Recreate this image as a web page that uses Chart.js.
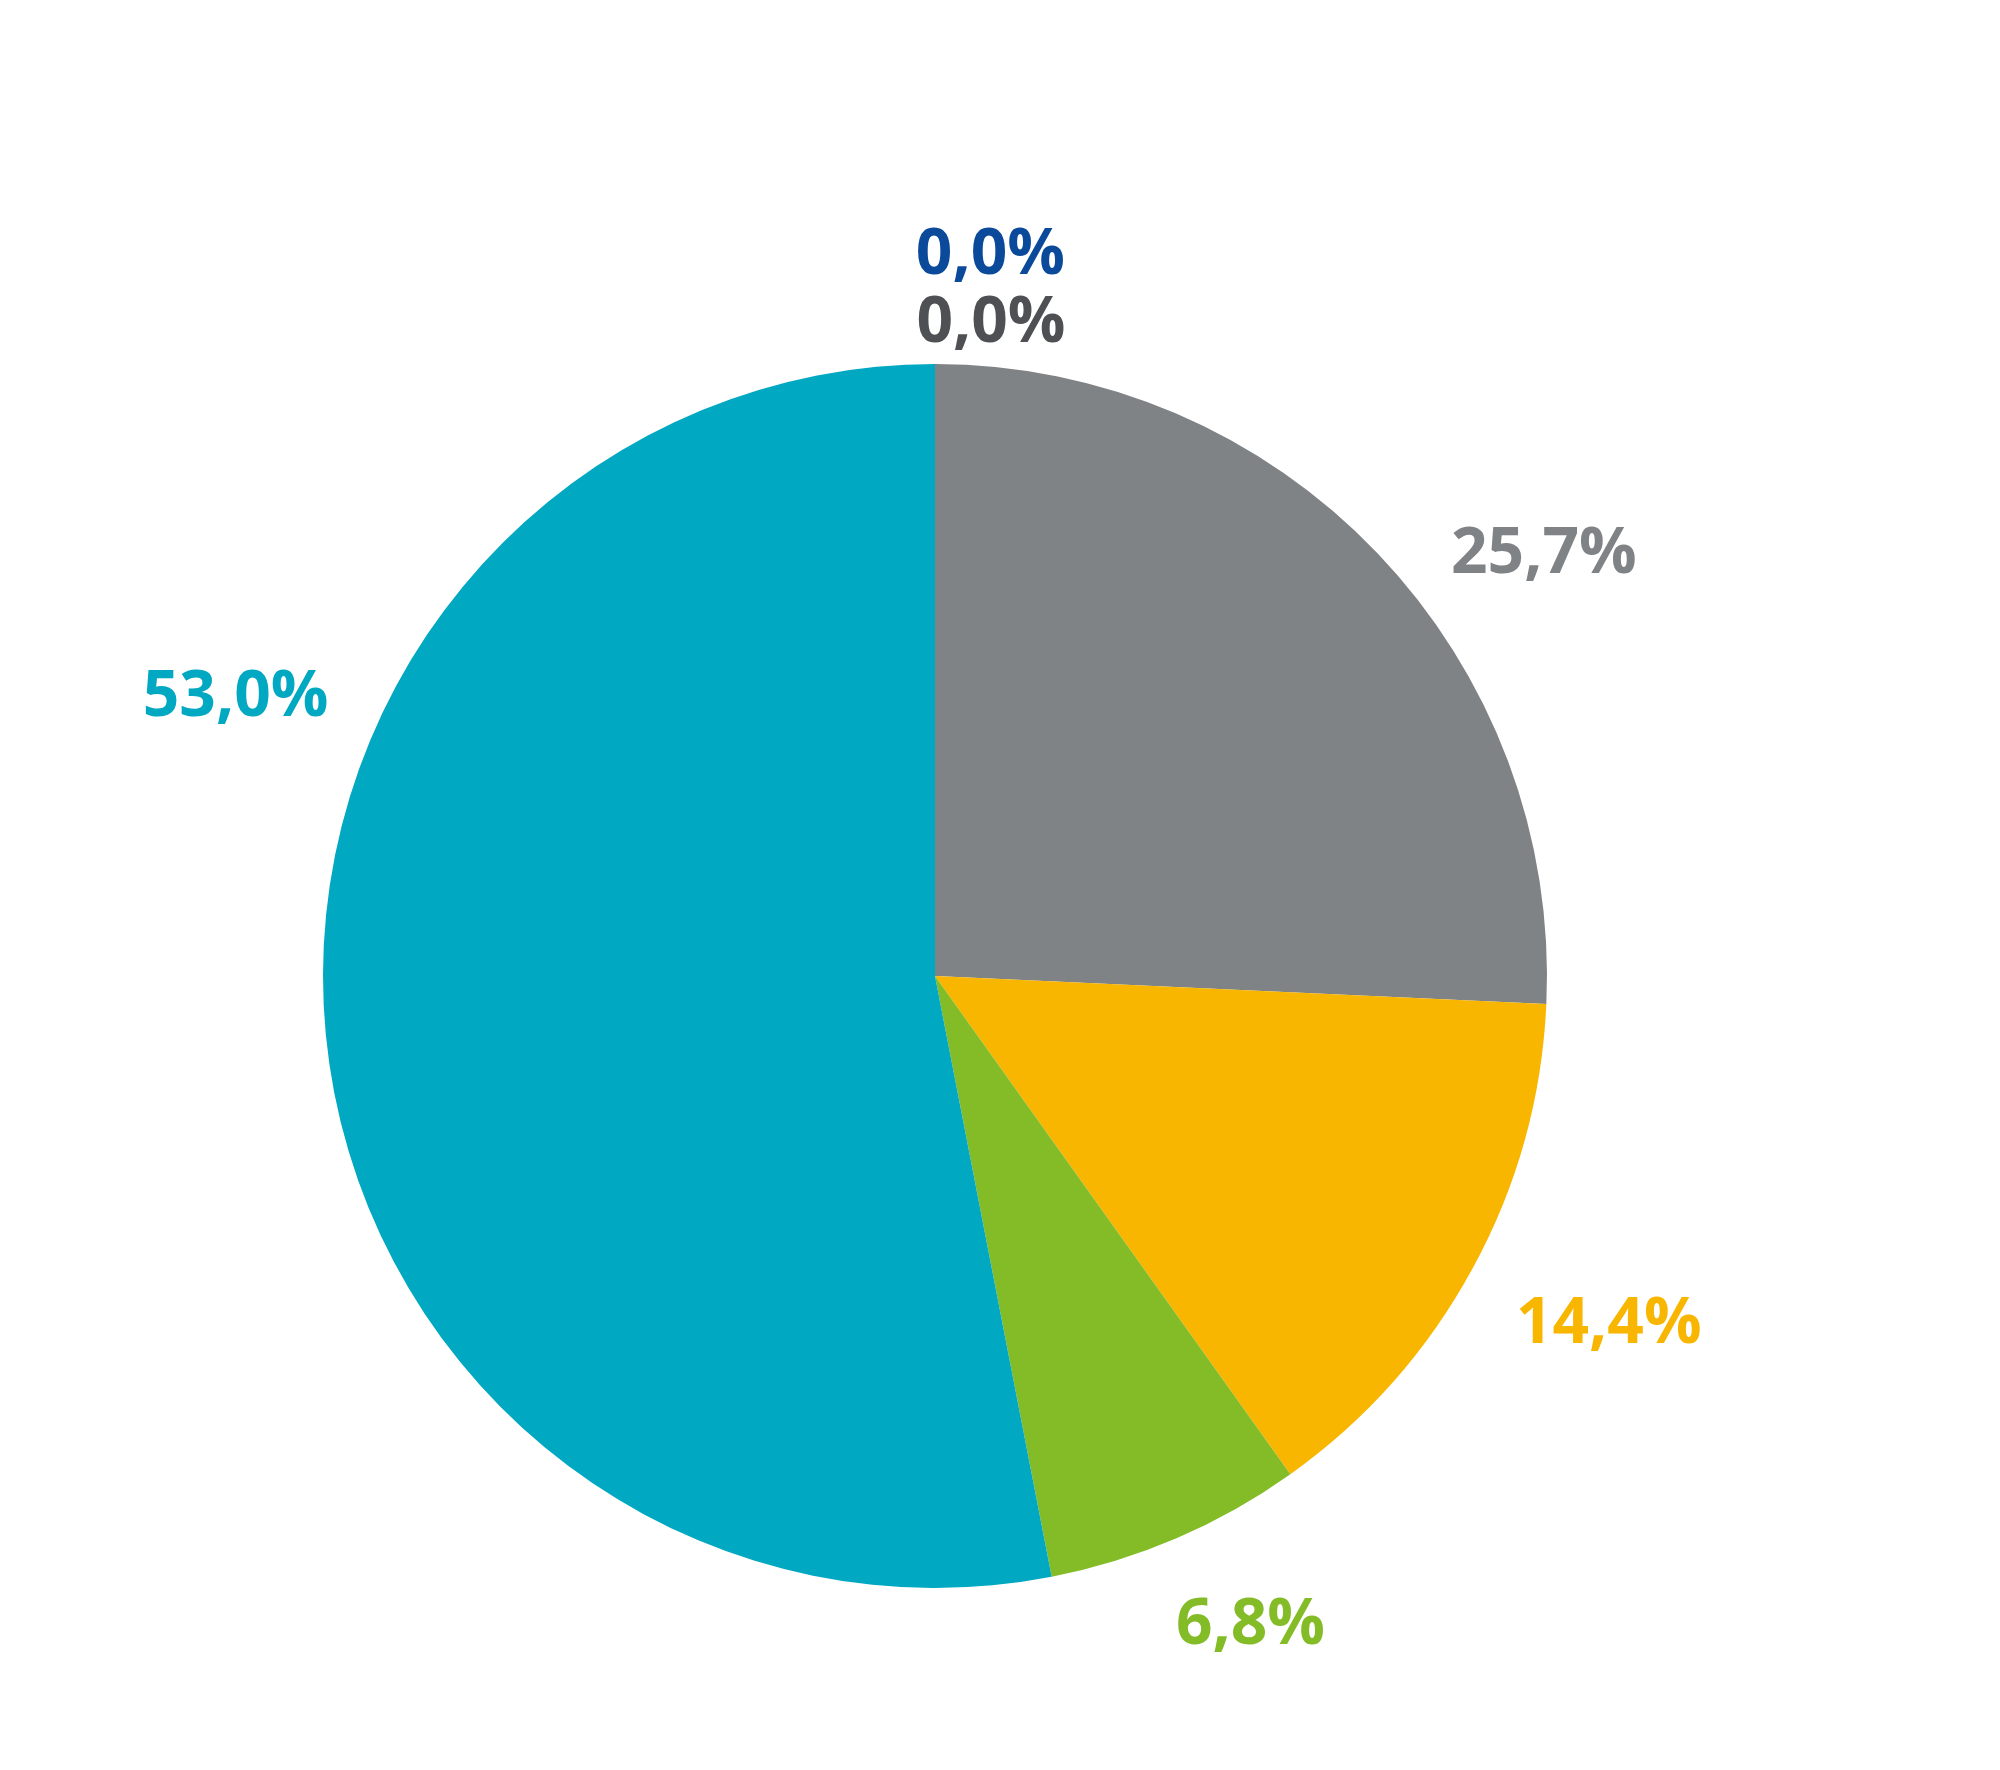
<!DOCTYPE html>
<html>
<head>
<meta charset="utf-8">
<script src="https://cdn.jsdelivr.net/npm/chart.js@4.4.0/dist/chart.umd.min.js"></script>
<style>
  html, body { margin: 0; padding: 0; background: #fff; }
  canvas { display: block; }
</style>
</head>
<body>
<canvas id="canvas" width="2000" height="1770"></canvas>
<script>
var categories = ['A', 'B', 'C', 'D', 'E', 'F'];
var values = [0.0, 0.0, 25.7, 14.4, 6.8, 53.0];
var labels = ['0,0%', '0,0%', '25,7%', '14,4%', '6,8%', '53,0%'];
var colors = ['#0b4a9b', '#4e5053', '#808386', '#f9b600', '#84bc28', '#00a8c2'];

// label placement: angle (deg clockwise from top) and distance as factor of radius
var labelAngle = [4.4, 4.9, 55.3, 117.4, 154.1, 291.7];
var labelDist = [1.18, 1.07, 1.21, 1.24, 1.18, 1.23];

var labelPlugin = {
  id: 'pctLabels',
  afterDraw: function (chart) {
    var arc = chart.getDatasetMeta(0).data[0];
    var cx = arc.x, cy = arc.y, r = arc.outerRadius;
    var ctx = chart.ctx;
    ctx.save();
    ctx.font = 'bold 64px "Open Sans"';
    ctx.textAlign = 'center';
    ctx.textBaseline = 'middle';
    for (var i = 0; i < labels.length; i++) {
      var a = labelAngle[i] * Math.PI / 180;
      var x = cx + Math.sin(a) * r * labelDist[i];
      var y = cy - Math.cos(a) * r * labelDist[i];
      ctx.fillStyle = colors[i];
      ctx.fillText(labels[i], x, y);
    }
    ctx.restore();
  }
};

var ctx = document.getElementById('canvas').getContext('2d');

var myPie = new Chart(ctx, {
  type: 'pie',
  data: {
    labels: categories,
    datasets: [{
      data: values,
      backgroundColor: colors,
      borderWidth: 0
    }]
  },
  options: {
    responsive: false,
    animation: false,
    layout: {
      padding: { left: 323, right: 453, top: 364, bottom: 182 }
    },
    plugins: {
      legend: { display: false },
      tooltip: { enabled: false }
    }
  },
  plugins: [labelPlugin]
});
</script>
</body>
</html>
